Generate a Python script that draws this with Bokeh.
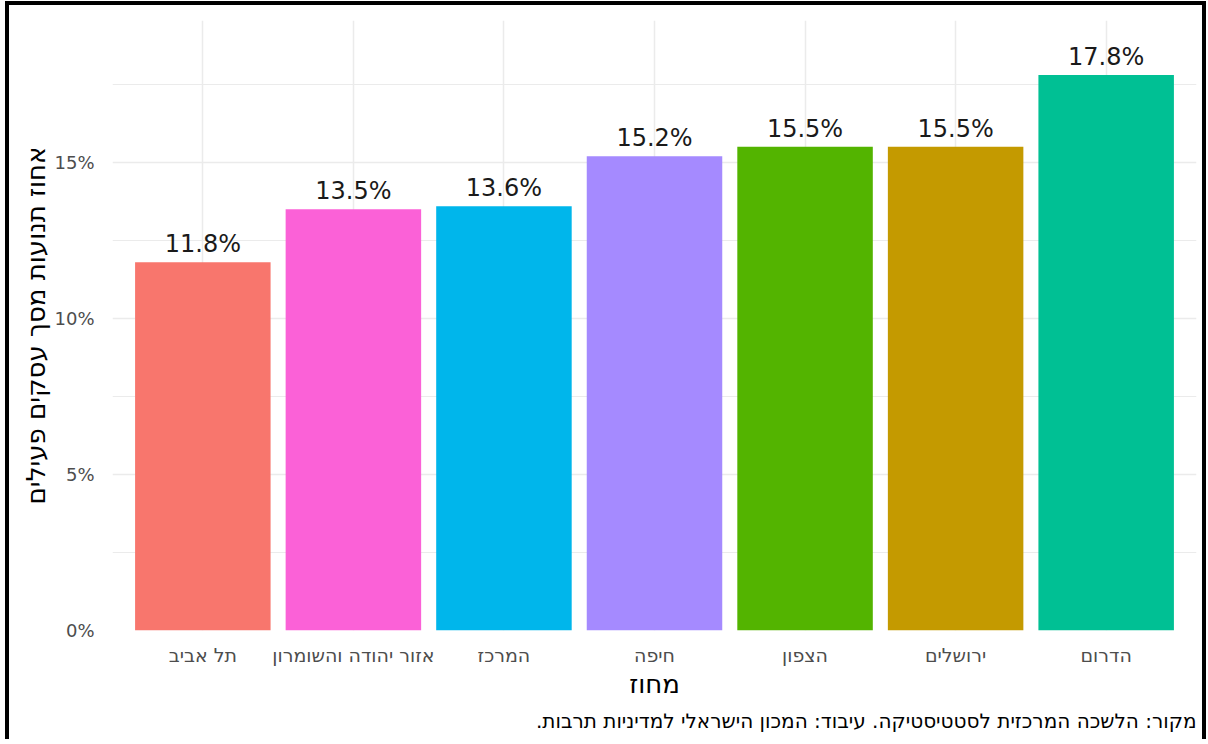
from bokeh.plotting import figure
from bokeh.models import ColumnDataSource, FactorRange, Range1d, Title, FixedTicker, CustomJSTickFormatter
from bokeh.core.properties import value
from bokeh.embed import file_html
from bokeh.resources import INLINE

regions = ["תל אביב", "אזור יהודה והשומרון", "המרכז", "חיפה", "הצפון", "ירושלים", "הדרום"]
shares = [11.8, 13.5, 13.6, 15.2, 15.5, 15.5, 17.8]
colors = ["#F8766D", "#FB61D7", "#00B6EB", "#A58AFF", "#53B400", "#C49A00", "#00C094"]
y_ticks = [0, 5, 10, 15]
y_minor = [2.5, 7.5, 12.5, 17.5]
y_title = "אחוז תנועות מסך עסקים פעילים"
x_title = "מחוז"
caption = "מקור: הלשכה המרכזית לסטטיסטיקה. עיבוד: המכון הישראלי למדיניות תרבות.\u200f"

FONT = "DejaVu Sans"

labels = [f"{v:.1f}%" for v in shares]
src = ColumnDataSource(dict(region=regions, share=shares, color=colors, label=labels))

W, H = 1201, 738
p = figure(width=W, height=H, output_backend="svg", toolbar_location=None,
           x_range=FactorRange(factors=regions, range_padding=0.1, range_padding_units="absolute"),
           y_range=Range1d(0, 19.55))
p.min_border_left = 103
p.min_border_right = 14
p.min_border_top = 15
p.min_border_bottom = 113
p.outline_line_color = None
p.background_fill_color = "white"
p.border_fill_color = "white"
p.styles = {"border-left": "4px solid black", "border-top": "4px solid black",
            "border-right": "4px solid black", "margin-left": "5px", "margin-top": "1px"}

p.vbar(x="region", top="share", width=0.9, color="color", line_color=None, source=src)
p.text(x="region", y="share", text="label", source=src, text_align="center",
       text_baseline="bottom", y_offset=-4, text_font=value(FONT),
       text_font_size="24px", text_color="#1a1a1a")

p.yaxis.ticker = FixedTicker(ticks=y_ticks, minor_ticks=y_minor)
p.yaxis.formatter = CustomJSTickFormatter(code="return tick + '%';")
for ax in (p.xaxis[0], p.yaxis[0]):
    ax.axis_line_color = None
    ax.major_tick_line_color = None
    ax.minor_tick_line_color = None
    ax.major_label_text_color = "#4d4d4d"
    ax.major_label_text_font = FONT
    ax.axis_label_text_font = FONT
    ax.axis_label_text_font_style = "normal"
    ax.axis_label_text_color = "#000000"

p.yaxis.major_label_text_font_size = "18px"
p.yaxis.major_label_standoff = 12
p.yaxis.axis_label = y_title
p.yaxis.axis_label_text_font_size = "26px"
p.yaxis.axis_label_standoff = 0

p.xaxis.major_label_text_font_size = "19px"
p.xaxis.major_label_standoff = 7
p.xaxis.axis_label = x_title
p.xaxis.axis_label_text_font_size = "26px"
p.xaxis.axis_label_standoff = 0

p.ygrid.grid_line_color = "#EBEBEB"
p.ygrid.grid_line_width = 1.5
p.ygrid.minor_grid_line_color = "#EBEBEB"
p.ygrid.minor_grid_line_width = 1
p.xgrid.grid_line_color = "#EBEBEB"
p.xgrid.grid_line_width = 1.5

p.add_layout(Title(text=caption, align="right", text_font=FONT, text_font_size="20px",
                   text_font_style="normal", text_color="#000000", standoff=10), "below")

open("out.html", "w").write(file_html(p, INLINE))
